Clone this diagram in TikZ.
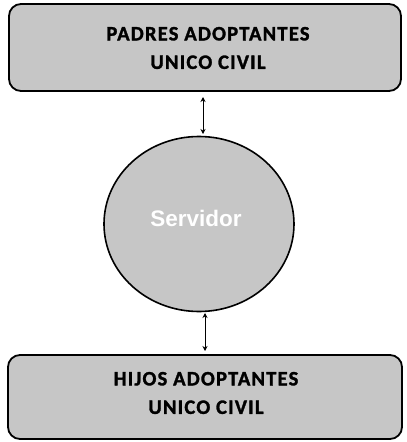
\documentclass[tikz,border=0pt]{standalone}
\usepackage{fontspec}
\setmainfont{Carlito}
\newfontfamily\panelfont[LetterSpace=6,FakeBold=1.5]{Carlito Bold}
\newfontfamily\servfont{Liberation Sans}
\usetikzlibrary{arrows.meta,shapes.geometric}
\definecolor{boxgray}{RGB}{198,198,198}
\tikzset{
  panel/.style={draw=black, line width=1.8pt, rounded corners=12pt, fill=boxgray},
  paneltext/.style={font=\panelfont\fontsize{20.5}{28.5}\selectfont, align=center, text=black},
  link/.style={line width=1pt, {Stealth[length=5pt,width=5pt]}-{Stealth[length=5pt,width=5pt]}}
}
\begin{document}
\begin{tikzpicture}[x=1pt,y=-1pt]
\useasboundingbox (0,0) rectangle (407,442);
\draw[panel] (9,4) rectangle (401,91);
\node[paneltext] (top) at (208,48) {PADRES ADOPTANTES\\UNICO CIVIL};
\coordinate (topb) at (203,97);
\draw[panel] (8,355) rectangle (402,439);
\node[paneltext] (bot) at (206,393) {HIJOS ADOPTANTES\\UNICO CIVIL};
\coordinate (bott) at (205,351);
\node[draw=black, line width=1.6pt, fill=boxgray, ellipse, minimum width=190pt, minimum height=175pt, inner sep=0pt] (srv) at (199,224) {};
\node[font=\servfont\bfseries\fontsize{22.5}{26}\selectfont, text=white] (srvlabel) at (196,218) {Servidor};
\coordinate (srvt) at (203,134);
\coordinate (srvb) at (205,313);
\draw[link] (topb) -- (srvt);
\draw[link] (srvb) -- (bott);
\end{tikzpicture}
\end{document}
